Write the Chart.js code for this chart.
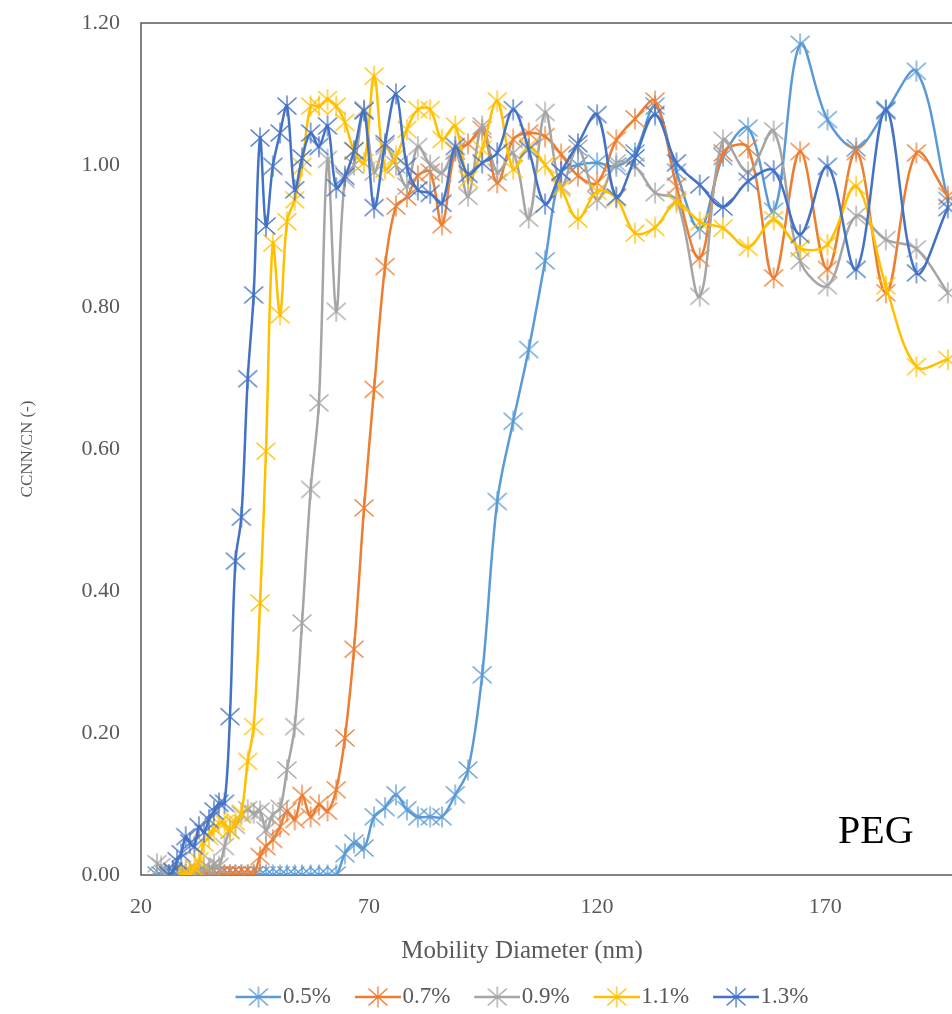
<!DOCTYPE html>
<html>
<head>
<meta charset="utf-8">
<script src="https://cdn.jsdelivr.net/npm/chart.js@4.4.1/dist/chart.umd.min.js"></script>
<style>
  html, body { margin: 0; padding: 0; background: #fff; overflow: hidden; }
  #wrap { width: 1044px; height: 1014px; }
</style>
</head>
<body>
<div id="wrap"><canvas id="chart" width="1044" height="1014"></canvas></div>
<script>
// mobility diameter bins (nm), shared by all supersaturations
const diameters = [
  23.5, 24.4, 25.3, 26.1, 27.0, 27.9, 28.8, 29.8, 30.7, 31.7,
  32.7, 33.8, 34.9, 36.0, 37.1, 38.3, 39.5, 40.7, 42.0, 43.4,
  44.7, 46.1, 47.4, 48.9, 50.5, 52.0, 53.7, 55.3, 57.2, 59.0,
  60.9, 62.8, 64.7, 66.7, 68.9, 71.1, 73.5, 75.9, 78.3, 80.7,
  83.4, 86.0, 88.9, 91.7, 94.8, 98.1, 101.6, 105.0, 108.6, 112.1,
  115.8, 120.0, 124.2, 128.3, 132.7, 137.4, 142.5, 147.6, 153.1, 158.7,
  164.5, 170.5, 176.8, 183.3, 190.0, 196.9
];

// activated fraction CCNN/CN for each supersaturation
const ss05 = [
  0, 0, 0, 0, 0, 0, 0, 0, 0, 0,
  0, 0, 0, 0, 0, 0, 0, 0, 0, 0,
  0, 0, 0, 0, 0, 0, 0, 0, 0, 0,
  0, 0, 0.03, 0.045, 0.038, 0.082, 0.095, 0.113, 0.092, 0.082,
  0.082, 0.082, 0.113, 0.148, 0.282, 0.526, 0.639, 0.74, 0.865, 0.99,
  1.0, 1.003, 0.998, 1.017, 1.083, 0.99, 0.91, 1.012, 1.052, 0.935,
  1.17, 1.064, 1.024, 1.076, 1.132, 0.95
];
const ss07 = [
  null, null, null, null, null, null, 0, 0, 0, 0,
  0, 0, 0, 0, 0, 0, 0, 0, 0, 0,
  0, 0.026, 0.04, 0.05, 0.068, 0.09, 0.078, 0.112, 0.082, 0.099,
  0.09, 0.12, 0.193, 0.318, 0.517, 0.684, 0.857, 0.942, 0.955, 0.985,
  0.99, 0.916, 1.02, 1.03, 1.05, 0.975, 1.036, 1.045, 1.04, 1.015,
  0.985, 0.975, 1.035, 1.065, 1.09, 0.97, 0.869, 1.017, 1.024, 0.841,
  1.019, 0.853, 1.019, 0.82, 1.017, 0.956
];
const ss09 = [
  0.016, 0.012, 0, 0, 0.005, 0, 0, 0.005, 0, 0,
  0.005, 0.01, 0.01, 0.015, 0.012, 0.04, 0.063, 0.07, 0.085, 0.092,
  0.087, 0.09, 0.063, 0.085, 0.094, 0.148, 0.209, 0.355, 0.543, 0.665,
  1.008, 0.794, 0.98, 1.0, 1.078, 0.99, 1.026, 1.0, 0.97, 1.026,
  1.0, 0.989, 1.02, 0.956, 1.055, 0.99, 1.017, 0.925, 1.074, 0.97,
  1.024, 0.951, 1.003, 0.998, 0.961, 0.951, 0.815, 1.035, 0.99, 1.048,
  0.865, 0.83, 0.928, 0.895, 0.882, 0.82
];
const ss11 = [
  null, null, null, null, null, null, 0, 0, 0, 0.01,
  0.02, 0.045, 0.054, 0.065, 0.073, 0.073, 0.063, 0.075, 0.087, 0.16,
  0.209, 0.383, 0.597, 0.89, 0.789, 0.92, 0.951, 0.998, 1.083, 1.083,
  1.092, 1.083, 1.06, 1.02, 1.003, 1.125, 0.994, 1.012, 1.05, 1.078,
  1.078, 1.036, 1.055, 0.98, 1.022, 1.09, 0.994, 1.026, 1.0, 0.967,
  0.924, 0.963, 0.953, 0.904, 0.912, 0.947, 0.92, 0.911, 0.884, 0.923,
  0.883, 0.888, 0.97, 0.83, 0.716, 0.726
];
const ss13 = [
  null, null, null, 0, 0.005, 0.02, 0.03, 0.054, 0.045, 0.04,
  0.068, 0.06, 0.078, 0.09, 0.101, 0.101, 0.223, 0.442, 0.504, 0.699,
  0.817, 1.038, 0.914, 0.998, 1.045, 1.083, 0.965, 1.01, 1.045, 1.026,
  1.055, 0.968, 0.984, 1.02, 1.076, 0.94, 1.03, 1.1, 0.998, 0.965,
  0.96, 0.946, 1.026, 0.987, 1.003, 1.017, 1.078, 1.022, 0.945, 0.99,
  1.03, 1.071, 0.955, 1.01, 1.071, 1.003, 0.972, 0.941, 0.977, 0.992,
  0.902, 0.998, 0.853, 1.078, 0.848, 0.94
];

const seriesLabels = ['0.5%', '0.7%', '0.9%', '1.1%', '1.3%'];
const seriesValues = [ss05, ss07, ss09, ss11, ss13];
const seriesColors = ['#5b9bd5', '#ed7d31', '#a5a5a5', '#ffc000', '#4472c4'];
const xTickValues = [20, 70, 120, 170];

const serif = '"Liberation Serif", "Times New Roman", serif';
const textColor = '#595959';

// asterisk marker: an X with a vertical bar through it
function drawStar(g, cx, cy, color) {
  g.strokeStyle = color;
  g.lineWidth = 1.3;
  g.beginPath();
  g.moveTo(cx - 9.5, cy - 8.5); g.lineTo(cx + 9.5, cy + 8.5);
  g.moveTo(cx + 9.5, cy - 8.5); g.lineTo(cx - 9.5, cy + 8.5);
  g.moveTo(cx, cy - 10.5); g.lineTo(cx, cy + 10.5);
  g.stroke();
}

function starMarker(color) {
  const c = document.createElement('canvas');
  c.width = 22; c.height = 22;
  drawStar(c.getContext('2d'), 11, 11, color);
  return c;
}

// legend swatch: short line with the marker in the middle.
// The legend centres the image on a 36px box, so the line runs from
// the box start (x = 10 here) to just before the label text.
function legendSwatch(color) {
  const c = document.createElement('canvas');
  c.width = 56; c.height = 22;
  const g = c.getContext('2d');
  g.strokeStyle = color;
  g.lineWidth = 2.5;
  g.beginPath();
  g.moveTo(10, 11); g.lineTo(56, 11);
  g.stroke();
  drawStar(g, 33, 11, color);
  return c;
}

const markers = seriesColors.map(starMarker);
const swatches = seriesColors.map(legendSwatch);

// plot frame drawn under the series
const plotFrame = {
  id: 'plotFrame',
  beforeDatasetsDraw(chart) {
    const { ctx, chartArea: a } = chart;
    ctx.save();
    ctx.strokeStyle = '#595959';
    ctx.lineWidth = 1.5;
    ctx.strokeRect(a.left, a.top, a.right - a.left, a.bottom - a.top);
    ctx.restore();
  }
};

// sample name in the lower right corner of the plot
const sampleLabel = {
  id: 'sampleLabel',
  afterDatasetsDraw(chart) {
    const { ctx, chartArea: a } = chart;
    ctx.save();
    ctx.font = '40px ' + serif;
    ctx.fillStyle = '#000';
    ctx.textAlign = 'left';
    ctx.textBaseline = 'alphabetic';
    ctx.fillText('PEG', a.right - 124, a.bottom - 32);
    ctx.restore();
  }
};

const defaultLegendLabels = Chart.defaults.plugins.legend.labels.generateLabels;

new Chart(document.getElementById('chart'), {
  type: 'line',
  data: {
    datasets: seriesLabels.map((label, i) => ({
      label: label,
      data: diameters.map((d, k) => ({ x: d, y: seriesValues[i][k] })),
      borderColor: seriesColors[i],
      backgroundColor: seriesColors[i],
      borderWidth: 2.5,
      tension: 0.35,
      pointStyle: markers[i],
      pointRadius: 11,
      pointHoverRadius: 11,
      order: seriesLabels.length - i
    }))
  },
  options: {
    responsive: false,
    animation: false,
    events: [],
    layout: { padding: { left: 10, right: 10, top: 23, bottom: -4.5 } },
    scales: {
      x: {
        type: 'linear',
        min: 20,
        max: 200,
        grid: { display: false, drawTicks: false },
        border: { display: false },
        afterBuildTicks(scale) {
          scale.ticks = xTickValues.map(v => ({ value: v }));
        },
        ticks: {
          padding: 19,
          color: textColor,
          font: { family: serif, size: 22 },
          maxRotation: 0,
          autoSkip: false
        },
        afterFit(scale) { scale.height = 50; }
      },
      y: {
        min: 0,
        max: 1.2,
        grid: { display: false, drawTicks: true, tickLength: 19 },
        border: { display: false },
        ticks: {
          stepSize: 0.2,
          padding: 2,
          color: textColor,
          font: { family: serif, size: 22 },
          callback: v => v.toFixed(2)
        },
        title: {
          display: true,
          text: 'CCNN/CN (-)',
          color: textColor,
          font: { family: serif, size: 17 },
          padding: { top: 7, bottom: 0 }
        },
        afterFit(scale) { scale.width = 131; }
      },
      // empty right-hand box so the plot runs past the page edge
      yRight: {
        position: 'right',
        display: true,
        grid: { display: false, drawTicks: false },
        border: { display: false },
        ticks: { display: false },
        afterFit(scale) { scale.width = 72; }
      }
    },
    plugins: {
      title: {
        display: true,
        position: 'bottom',
        text: 'Mobility Diameter (nm)',
        color: textColor,
        font: { family: serif, size: 25, weight: 'normal', lineHeight: 0.84 },
        padding: { top: 15.5, bottom: 0 },
        weight: 500
      },
      legend: {
        position: 'bottom',
        weight: 1000,
        labels: {
          usePointStyle: true,
          pointStyleWidth: 36,
          padding: 24,
          color: textColor,
          font: { family: serif, size: 23 },
          sort: (a, b) => a.datasetIndex - b.datasetIndex,
          generateLabels(chart) {
            const items = defaultLegendLabels(chart);
            items.forEach(it => { it.pointStyle = swatches[it.datasetIndex]; });
            return items;
          }
        }
      },
      tooltip: { enabled: false }
    }
  },
  plugins: [plotFrame, sampleLabel]
});
</script>
</body>
</html>
